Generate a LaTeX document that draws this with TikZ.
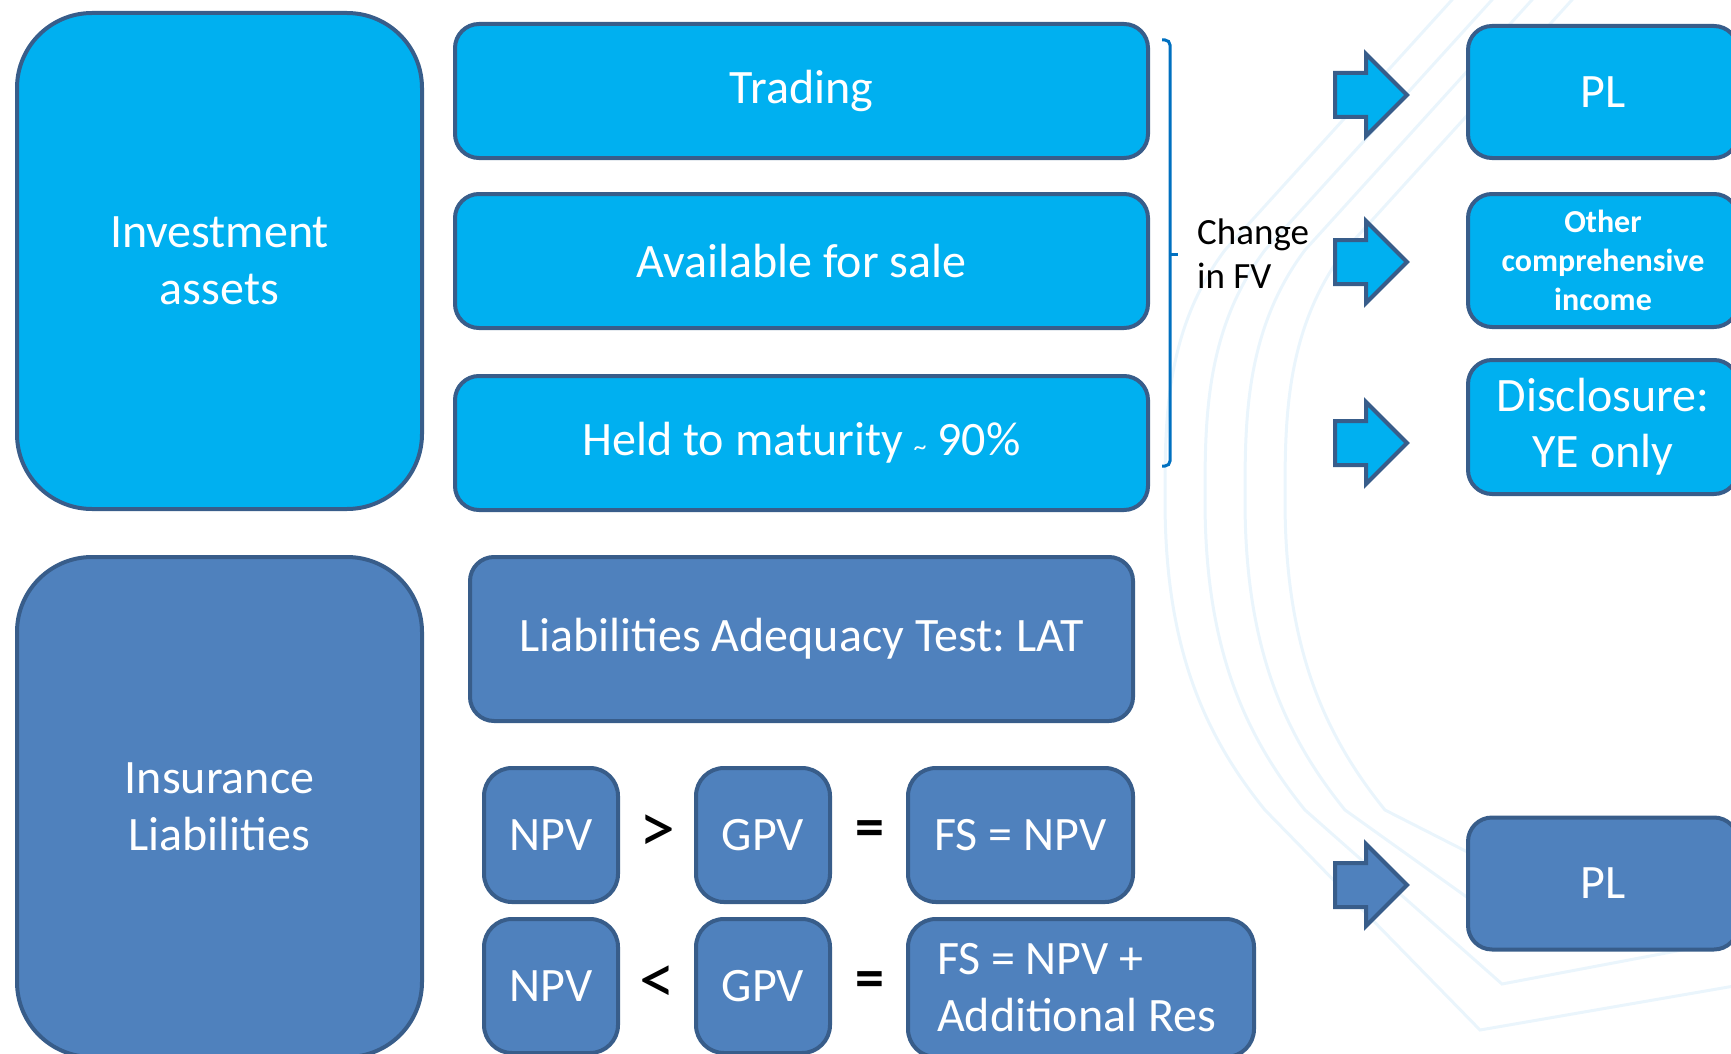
\documentclass[tikz,border=0pt]{standalone}
\usepackage{fontspec}
\setmainfont{Carlito}
\frenchspacing
\usetikzlibrary{positioning,shapes.arrows}

\definecolor{cyanfill}{RGB}{0,176,240}
\definecolor{steelfill}{RGB}{79,129,189}
\definecolor{edgeblue}{RGB}{56,93,138}
\definecolor{bracecol}{RGB}{0,112,192}
\definecolor{swirl}{RGB}{234,245,252}

\tikzset{
  box/.style={draw=edgeblue, line width=4pt, text=white, rounded corners=24pt, outer sep=0pt,
    align=center, inner sep=0pt, font=\fontsize{48}{57}\selectfont},
  assetbox/.style={box, fill=cyanfill},
  liabbox/.style={box, fill=steelfill},
  blockarrow/.style={single arrow, draw=edgeblue, line width=4pt, minimum height=72pt,
    minimum width=78pt, single arrow head extend=19pt, single arrow tip angle=90,
    inner xsep=0pt, inner ysep=20pt, anchor=tail},
  relsign/.style={font=\fontsize{72}{72}\selectfont, text=black, inner sep=0pt},
  eqsign/.style={font=\bfseries\fontsize{58}{58}\selectfont, text=black, inner sep=0pt},
  swirlline/.style={draw=swirl, line width=3pt},
}

\begin{document}
\begin{tikzpicture}[x=1pt, y=-1pt]
\useasboundingbox (0,0) rectangle (1731,1054);
\clip (0,0) rectangle (1731,1054);

% faint background swirl
\foreach \k in {0,1,2,3}
  \draw[swirlline] ({1470+40*\k},-20) -- ({1225+40*\k},250) .. controls ({1165+40*\k},330) and ({1165+40*\k},420) .. ({1165+40*\k},500)
    .. controls ({1165+40*\k},640) and ({1200+40*\k},730) .. ({1265+40*\k},810) -- ({1480+22*\k},{1030-46*\k}) -- (1740,{985-46*\k});

% assets side
\node (invest)[assetbox, rounded corners=75pt, minimum width=405pt, minimum height=496pt] at (219.5,261) {Investment\\assets};
\node (trading)[assetbox, minimum width=693pt, minimum height=134pt] at (801.5,91) {Trading};
\node (afs)[assetbox, minimum width=693pt, minimum height=134pt] [below=36pt of trading] {Available for sale};
\node (htm)[assetbox, minimum width=693pt, minimum height=134pt] [below=48pt of afs] {Held to maturity {\fontsize{26}{26}\selectfont\textasciitilde} 90\%};

% change in fair value
\draw[bracecol, line width=3pt, rounded corners=5pt] (1162,40) -- (1170,40) -- (1170,466) -- (1162,466);
\draw[bracecol, line width=3pt] (1170,254) -- (1178,254);
\node (change)[anchor=west, align=left, inner sep=0pt, font=\fontsize{37}{44}\selectfont] at (1197,254) {Change\\in FV};

\node (arrPL)[blockarrow, fill=cyanfill] at (1333,95) {};
\node (arrOCI)[blockarrow, fill=cyanfill] at (1333,262) {};
\node (arrDisc)[blockarrow, fill=cyanfill] at (1333,443) {};

\node (pl)[assetbox, minimum width=270pt, minimum height=132pt] at (1603,92) {PL};
\node (oci)[assetbox, minimum width=270pt, minimum height=133pt, font=\bfseries\fontsize{32}{39}\selectfont] [below=36pt of pl] {Other\\comprehensive\\income};
\node (discl)[assetbox, minimum width=270pt, minimum height=134pt, font=\fontsize{48}{56}\selectfont] [below=33pt of oci] {Disclosure:\\YE only};

% liabilities side
\node (insur)[liabbox, rounded corners=75pt, minimum width=405pt, minimum height=500pt] at (219.5,807) {Insurance\\Liabilities};
\node (lat)[liabbox, minimum width=663pt, minimum height=164pt] at (801.5,639) {Liabilities Adequacy Test: LAT};

\node (npvA)[liabbox, rounded corners=28pt, minimum size=134pt] at (551,835) {NPV};
\node (gpvA)[liabbox, rounded corners=28pt, minimum size=134pt] at (763,835) {GPV};
\node (fsA)[liabbox, rounded corners=28pt, minimum width=225pt, minimum height=134pt] at (1020.5,835) {FS = NPV};
\node (gtA)[relsign] at (657,834) {>};
\node (eqA)[eqsign] at (870,834) {=};

\node (npvB)[liabbox, rounded corners=28pt, minimum size=134pt] [below=17pt of npvA] {NPV};
\node (gpvB)[liabbox, rounded corners=28pt, minimum size=134pt] [below=17pt of gpvA] {GPV};
\node (fsB)[liabbox, rounded corners=28pt, anchor=north west, minimum height=138pt, text width=288pt, inner xsep=29pt, align=flush left] at (908,919) {FS = NPV +\\Additional Res};
\node (ltB)[relsign] at (657,985) {<};
\node (eqB)[eqsign] at (870,985) {=};

\node (arrPLB)[blockarrow, fill=steelfill] at (1333,885) {};
\node (plB)[liabbox, minimum width=270pt, minimum height=132pt] at (1603,883.5) {PL};
\end{tikzpicture}
\end{document}
